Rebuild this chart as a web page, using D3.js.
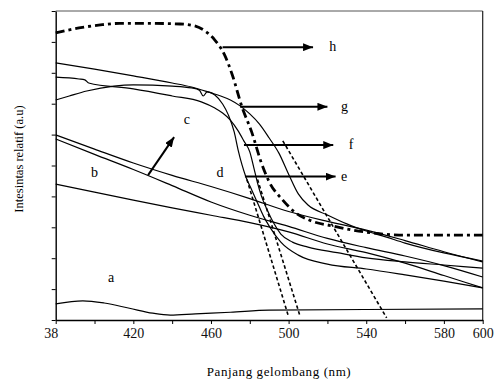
<!DOCTYPE html>
<html>
<head>
<meta charset="utf-8">
<script src="https://cdnjs.cloudflare.com/ajax/libs/d3/7.8.5/d3.min.js"></script>
<style>
  body { margin: 0; background: #fff; }
</style>
</head>
<body>
<div id="chart"></div>
<script>
// wavelength (nm), relative intensity (a.u., 0-10 grid)
const curveA = [[380,0.52],[394,0.62],[405,0.55],[418,0.38],[430,0.22],[439,0.16],[452,0.2],[470,0.25],[490,0.32],[540,0.34],[600,0.36]];
const curveB1 = [[380,5.99],[400,5.53],[420,5.08],[440,4.68],[460,4.32],[480,3.93],[500,3.51],[520,3.19],[540,2.91],[560,2.57],[580,2.21],[600,1.88]];
const curveB2 = [[380,5.86],[400,5.36],[420,4.87],[440,4.35],[460,3.82],[480,3.39],[500,3.03],[520,2.64],[540,2.34],[560,2.07],[580,1.76],[600,1.39]];
const curveLow = [[380,4.40],[400,4.14],[420,3.88],[440,3.63],[460,3.39],[480,3.15],[500,2.85],[520,2.46],[540,2.18],[560,1.84],[580,1.44],[600,1.04]];
const curveC = [[380,7.12],[387,7.25],[396,7.41],[410,7.57],[420,7.61],[440,7.57],[450,7.51],[454,7.44],[456,7.25],[458,7.38],[462,7.28],[466,6.99],[469,6.63],[472,6.08],[474,5.50],[476,5.02],[478,4.63],[481,4.21],[484,3.79],[487,3.37],[490,3.04],[496,2.52],[505,2.10],[520,1.81],[540,1.65],[560,1.46],[580,1.26],[600,1.04]];
const curveD = [[380,7.86],[392,7.80],[395,7.77],[397,7.67],[420,7.48],[440,7.25],[455,7.06],[462,6.86],[466,6.70],[470,6.47],[474,6.12],[477,5.79],[480,5.44],[482,4.95],[484,4.43],[486,4.01],[489,3.56],[492,3.17],[496,2.78],[502,2.52],[510,2.36],[525,2.18],[540,2.01],[560,1.88],[580,1.78],[600,1.68]];
const curveG = [[380,8.32],[400,8.12],[420,7.90],[440,7.67],[450,7.54],[460,7.35],[465,7.25],[470,7.12],[475,6.93],[480,6.67],[485,6.34],[490,5.89],[495,5.40],[500,4.72],[505,4.08],[510,3.72],[520,3.40],[530,3.11],[540,2.88],[550,2.69],[560,2.49],[580,2.17],[600,1.91]];
const curveH = [[380,9.29],[392,9.45],[403,9.55],[413,9.60],[429,9.60],[444,9.58],[452,9.51],[457,9.35],[462,9.06],[467,8.58],[471,7.93],[476,6.89],[481,6.08],[486,5.08],[490,4.47],[497,3.88],[503,3.50],[512,3.20],[523,3.04],[533,2.91],[543,2.82],[557,2.75],[600,2.75]];

// extrapolated tangent lines
const tangentLines = [
  [[478.5,4.55],[500,0.1]],
  [[484,4.55],[506,0.1]],
  [[497,5.8],[550.5,0.07]]
];

// labelling arrows
const arrowNames = ["h","g","f","e"];
const arrowStart = [466, 475, 477, 477.5];
const arrowEnd = [512.6, 520, 523, 524.2];
const arrowLevel = [8.83, 6.9, 5.66, 4.64];
const arrowLabelWl = [521, 527, 531, 527];

const letterNames = ["a","b","c","d"];
const letterWl = [408.5, 400, 447.6, 464.7];
const letterVal = [1.36, 4.76, 6.47, 4.76];

const xTickValues = d3.range(380, 601, 20);
const xLabelValues = [380, 420, 460, 500, 540, 580, 600];
const xLabelText = ["38", "420", "460", "500", "540", "580", "600"];
const yTickValues = d3.range(0, 11, 1);

const serif = "'Liberation Serif', 'DejaVu Serif', serif";
const width = 500, height = 380;
const margin = {top: 11, right: 17.3, bottom: 60, left: 55.7};
const innerW = width - margin.left - margin.right;
const innerH = height - margin.top - margin.bottom;

let svg = d3.select("#chart").append("svg")
    .attr("width", width)
    .attr("height", height);

svg.append("defs").append("marker")
    .attr("id", "head")
    .attr("viewBox", "0 0 10 8")
    .attr("refX", 10).attr("refY", 4)
    .attr("markerUnits", "userSpaceOnUse")
    .attr("markerWidth", 10).attr("markerHeight", 8)
    .attr("orient", "auto")
  .append("path")
    .attr("d", "M0,0 L10,4 L0,8 Z")
    .attr("fill", "#000");

let g = svg.append("g")
    .attr("transform", `translate(${margin.left},${margin.top})`);

let x = d3.scaleLinear().domain([380, 600]).range([0, innerW]);
let y = d3.scaleLinear().domain([0, 10]).range([innerH, 0]);

// frame
g.append("line").attr("x1", 0).attr("x2", innerW).attr("y1", 0).attr("y2", 0)
    .attr("stroke", "#555").attr("stroke-width", 1);
g.append("line").attr("x1", innerW).attr("x2", innerW).attr("y1", 0).attr("y2", innerH)
    .attr("stroke", "#222").attr("stroke-width", 1.2);

// axes
let xAxis = g.append("g")
    .attr("transform", `translate(0,${innerH})`)
    .call(d3.axisBottom(x).tickValues(xTickValues).tickSize(4).tickSizeOuter(0).tickFormat(""));
let xLabels = g.append("g")
    .attr("transform", `translate(0,${innerH})`)
    .call(d3.axisBottom(x).tickValues(xLabelValues).tickSize(0).tickPadding(7.6)
      .tickFormat(function(d, i) { return xLabelText[i]; }));
xLabels.select(".domain").remove();
xLabels.attr("font-family", serif).attr("font-size", 14);
xLabels.selectAll("text")
    .style("font-family", serif)
    .attr("fill", "#111")
    .attr("dx", function(d) { return d === 380 ? -5 : 0; });

let yAxis = g.append("g")
    .call(d3.axisLeft(y).tickValues(yTickValues).tickSize(4).tickSizeOuter(0).tickFormat(""));

[xAxis, yAxis].forEach(function(a) {
  a.select(".domain").attr("stroke", "#000").attr("stroke-width", 1.4);
  a.selectAll(".tick line").attr("stroke", "#000").attr("stroke-width", 1);
});

let line = d3.line()
    .x(function(d) { return x(d[0]); })
    .y(function(d) { return y(d[1]); })
    .curve(d3.curveMonotoneX);

let solidCurves = [curveA, curveB1, curveB2, curveLow, curveC, curveD, curveG];
g.selectAll("path.spec").data(solidCurves).enter()
  .append("path")
    .attr("class", "spec")
    .attr("d", line)
    .attr("fill", "none")
    .attr("stroke", "#000")
    .attr("stroke-width", 1.2);

g.selectAll("path.tan").data(tangentLines).enter()
  .append("path")
    .attr("class", "tan")
    .attr("d", d3.line().x(function(d) { return x(d[0]); }).y(function(d) { return y(d[1]); }))
    .attr("fill", "none")
    .attr("stroke", "#000")
    .attr("stroke-width", 1.6)
    .attr("stroke-dasharray", "3.5,2.5");

g.append("path")
    .datum(curveH)
    .attr("d", line)
    .attr("fill", "none")
    .attr("stroke", "#000")
    .attr("stroke-width", 2.8)
    .attr("stroke-dasharray", "9,4,3,4");

// arrows
arrowNames.forEach(function(name, i) {
  g.append("line")
      .attr("x1", x(arrowStart[i])).attr("y1", y(arrowLevel[i]))
      .attr("x2", x(arrowEnd[i])).attr("y2", y(arrowLevel[i]))
      .attr("stroke", "#000").attr("stroke-width", 2)
      .attr("marker-end", "url(#head)");
  g.append("text")
      .attr("x", x(arrowLabelWl[i])).attr("y", y(arrowLevel[i]))
      .attr("dy", "0.3em")
      .style("font-family", serif)
      .attr("font-size", 14)
      .text(name);
});

// c arrow
g.append("line")
    .attr("x1", x(427.6)).attr("y1", y(4.69))
    .attr("x2", x(441)).attr("y2", y(5.92))
    .attr("stroke", "#000").attr("stroke-width", 2)
    .attr("marker-end", "url(#head)");

g.selectAll("text.letter").data(letterNames).enter()
  .append("text")
    .attr("class", "letter")
    .attr("x", function(d, i) { return x(letterWl[i]); })
    .attr("y", function(d, i) { return y(letterVal[i]); })
    .attr("dy", "0.3em")
    .attr("text-anchor", "middle")
    .style("font-family", serif)
    .attr("font-size", 14)
    .text(function(d) { return d; });

// axis titles
svg.append("text")
    .attr("x", 279).attr("y", 376)
    .attr("text-anchor", "middle")
    .style("font-family", serif)
    .attr("font-size", 13)
    .attr("letter-spacing", 0.6)
    .text("Panjang gelombang (nm)");

svg.append("text")
    .attr("transform", `translate(23, 159) rotate(-90)`)
    .attr("text-anchor", "middle")
    .style("font-family", serif)
    .attr("font-size", 12.5)
    .text("Intesintas relatif (a.u)");
</script>
</body>
</html>
